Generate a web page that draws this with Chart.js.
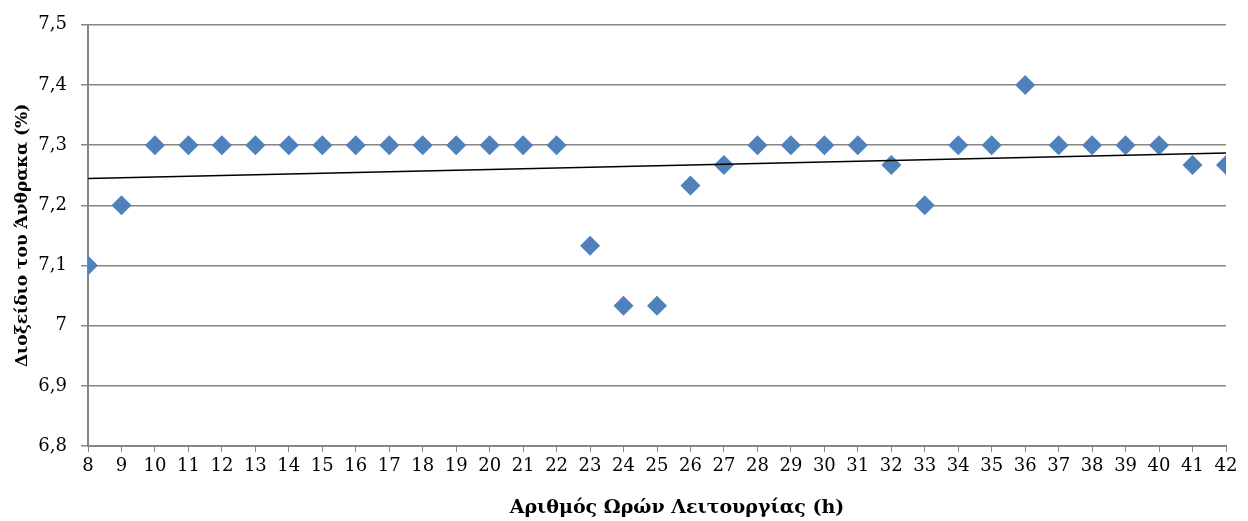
<!DOCTYPE html>
<html>
<head>
<meta charset="utf-8">
<script src="https://cdn.jsdelivr.net/npm/chart.js@4.4.0/dist/chart.umd.min.js"></script>
<style>
  html, body { margin: 0; padding: 0; background: #fff; }
  #wrap { width: 1248px; height: 521px; }
</style>
</head>
<body>
<div id="wrap"><canvas id="co2Chart"></canvas></div>
<script>
// Operating hours and measured CO2 (%)
var hours = [8, 9, 10, 11, 12, 13, 14, 15, 16, 17, 18, 19, 20, 21, 22, 23, 24, 25,
        26, 27, 28, 29, 30, 31, 32, 33, 34, 35, 36, 37, 38, 39, 40, 41, 42];
var co2 = [7.1, 7.2, 7.3, 7.3, 7.3, 7.3, 7.3, 7.3, 7.3, 7.3, 7.3, 7.3, 7.3, 7.3, 7.3,
        7.133, 7.033, 7.033, 7.233, 7.267, 7.3, 7.3, 7.3, 7.3, 7.267, 7.2, 7.3, 7.3,
        7.4, 7.3, 7.3, 7.3, 7.3, 7.267, 7.267];
var yTicks = [6.8, 6.9, 7, 7.1, 7.2, 7.3, 7.4, 7.5];
var xTitle = 'Αριθμός Ωρών Λειτουργίας (h)';

// points for the scatter dataset
var points = hours.map(function (h, i) { return { x: h, y: co2[i] }; });

// least squares trend line over the same data
function trendLine(xs, ys) {
        var n = xs.length, sx = 0, sy = 0, sxy = 0, sxx = 0;
        for (var i = 0; i < n; i++) {
                sx += xs[i]; sy += ys[i]; sxy += xs[i] * ys[i]; sxx += xs[i] * xs[i];
        }
        var b = (n * sxy - sx * sy) / (n * sxx - sx * sx);
        var a = (sy - b * sx) / n;
        var x0 = xs[0], x1 = xs[n - 1];
        return [{ x: x0, y: a + b * x0 }, { x: x1, y: a + b * x1 }];
}

var gridGray = '#868686';
var fontFamily = "'DejaVu Serif', 'Liberation Serif', serif";

// x axis title, drawn a bit right of the plot centre
var xTitlePlugin = {
        id: 'xTitle',
        afterDraw: function (chart) {
                var c = chart.ctx;
                var area = chart.chartArea;
                c.save();
                c.font = 'bold 19px ' + fontFamily;
                c.fillStyle = '#000';
                c.textAlign = 'center';
                c.textBaseline = 'middle';
                c.fillText(xTitle, (area.left + area.right) / 2 + 20, 508);
                c.restore();
        }
};

var ctx = document.getElementById('co2Chart').getContext('2d');
var co2Chart = new Chart(ctx, {
        type: 'scatter',
        data: {
                datasets: [
                        {
                                label: 'CO2',
                                data: points,
                                pointStyle: 'rectRot',
                                pointRadius: 10,
                                pointHoverRadius: 10,
                                backgroundColor: '#4F81BD',
                                borderWidth: 0,
                                order: 2
                        },
                        {
                                type: 'line',
                                label: 'Trend',
                                data: trendLine(hours, co2),
                                borderColor: '#000000',
                                borderWidth: 1.5,
                                pointRadius: 0,
                                fill: false,
                                order: 1
                        }
                ]
        },
        plugins: [xTitlePlugin],
        options: {
                responsive: true,
                maintainAspectRatio: false,
                animation: false,
                layout: { padding: { top: 24, right: 22, left: 12, bottom: 0 } },
                plugins: {
                        legend: { display: false },
                        tooltip: { enabled: false }
                },
                scales: {
                        x: {
                                type: 'linear',
                                min: 8,
                                max: 42,
                                afterFit: function (scale) { scale.height = 75; },
                                ticks: {
                                        stepSize: 1,
                                        color: '#000',
                                        padding: 4,
                                        maxRotation: 0,
                                        autoSkip: false,
                                        font: { family: fontFamily, size: 18 }
                                },
                                grid: {
                                        drawOnChartArea: false,
                                        drawTicks: true,
                                        tickLength: 6,
                                        color: gridGray
                                },
                                border: { color: gridGray, width: 2 }
                        },
                        y: {
                                min: 6.8,
                                max: 7.5,
                                afterFit: function (scale) { scale.width = 76; },
                                afterBuildTicks: function (scale) {
                                        scale.ticks = yTicks.map(function (v) { return { value: v }; });
                                },
                                ticks: {
                                        color: '#000',
                                        padding: 14,
                                        font: { family: fontFamily, size: 18 },
                                        callback: function (value) {
                                                return Number(value.toFixed(1)).toString().replace('.', ',');
                                        }
                                },
                                grid: {
                                        color: gridGray,
                                        lineWidth: 1.5,
                                        tickLength: 7
                                },
                                border: { color: gridGray, width: 2 },
                                title: {
                                        display: true,
                                        text: 'Διοξείδιο του Άνθρακα (%)',
                                        color: '#000',
                                        padding: { top: 0, bottom: 4 },
                                        font: { family: fontFamily, size: 17, weight: 'bold' }
                                }
                        }
                }
        }
});
</script>
</body>
</html>
